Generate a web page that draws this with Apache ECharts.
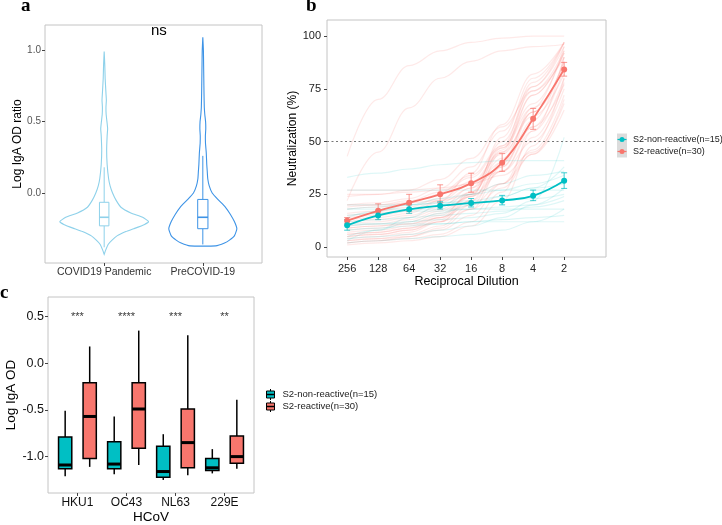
<!DOCTYPE html>
<html>
<head>
<meta charset="utf-8">
<script src="https://cdn.jsdelivr.net/npm/echarts@6/dist/echarts.min.js"></script>
<style>
html, body { margin: 0; padding: 0; background: #fff; }
#chart { width: 722px; height: 525px; }
</style>
</head>
<body>
<div id="chart"></div>
<script>
// ---- panel a : violins ----
const groupsA = ['COVID19 Pandemic', 'PreCOVID-19']
// outline: y level -> half width (category units)
const violinPanY = [-0.43, -0.40, -0.36, -0.33, -0.30, -0.27, -0.25, -0.22, -0.20, -0.17, -0.14, -0.10, -0.05, 0.00, 0.05, 0.10, 0.20, 0.30, 0.40, 0.45, 0.50, 0.55, 0.60, 0.65, 0.70, 0.80, 0.90, 0.99]
const violinPanW = [0.0, 0.015, 0.04, 0.08, 0.13, 0.22, 0.30, 0.41, 0.45, 0.39, 0.27, 0.17, 0.12, 0.085, 0.06, 0.045, 0.03, 0.025, 0.03, 0.035, 0.028, 0.02, 0.018, 0.022, 0.018, 0.01, 0.006, 0.0]
const violinPreY = [-0.37, -0.35, -0.33, -0.30, -0.25, -0.20, -0.15, -0.10, -0.05, 0.00, 0.05, 0.10, 0.15, 0.20, 0.28, 0.35, 0.40, 0.45, 0.50, 0.55, 0.60, 0.70, 0.80, 0.90, 1.00, 1.09]
const violinPreW = [0.13, 0.22, 0.27, 0.32, 0.345, 0.32, 0.28, 0.23, 0.16, 0.095, 0.065, 0.05, 0.045, 0.04, 0.035, 0.027, 0.026, 0.03, 0.028, 0.02, 0.015, 0.012, 0.01, 0.008, 0.006, 0.0]
// lower whisker, q1, median, q3, upper whisker
const boxPan = [-0.38, -0.23, -0.17, -0.065, 0.18]
const boxPre = [-0.36, -0.25, -0.17, -0.045, 0.26]

// ---- panel b : neutralization ----
const dilutions = ['256', '128', '64', '32', '16', '8', '4', '2']
const reactMean = [12.5, 17.2, 21, 25, 30.2, 40, 60.8, 84.2]
const reactLow = [11, 15, 17, 21, 26, 35.9, 55.8, 81]
const reactHigh = [14, 20.5, 25, 29.5, 35, 44.4, 65.7, 87.5]
const nonMean = [10.3, 15, 17.9, 19.6, 20.9, 22.1, 24.3, 31.4]
const nonLow = [8, 13, 16, 18, 19, 20, 22, 27.8]
const nonHigh = [13, 17, 20, 21.5, 23, 24.5, 27, 35.2]
// single samples (faint curves)
const reactCurves = [
    [43, 70, 86, 93, 97, 99, 100, 100],
    [22, 45, 66, 80, 88, 93, 95, 96],
    [5, 6, 8, 12, 22, 45, 72, 92],
    [3, 4, 6, 10, 20, 40, 66, 95],
    [8, 9, 11, 15, 25, 46, 76, 97],
    [10, 11, 13, 17, 24, 36, 55, 80],
    [2, 3, 4, 6, 12, 26, 55, 90],
    [15, 16, 18, 22, 30, 44, 64, 88],
    [25, 25, 26, 27, 30, 36, 50, 75],
    [20, 20, 21, 22, 25, 30, 44, 70],
    [12, 13, 15, 19, 28, 48, 78, 97],
    [6, 7, 9, 14, 26, 50, 74, 93],
    [27, 27, 27, 28, 30, 34, 45, 68],
    [4, 5, 7, 12, 24, 52, 80, 97],
    [18, 19, 21, 25, 33, 47, 66, 85],
    [9, 10, 12, 16, 24, 38, 60, 90],
    [1, 2, 3, 5, 10, 22, 48, 80],
    [14, 15, 17, 21, 28, 40, 57, 77],
    [7, 8, 10, 14, 22, 36, 57, 85],
    [20, 21, 23, 28, 38, 55, 76, 95],
    [11, 12, 14, 18, 26, 42, 64, 88],
    [5, 6, 8, 13, 25, 47, 72, 92],
    [16, 17, 19, 23, 31, 45, 62, 82],
    [3, 4, 5, 8, 15, 30, 52, 78],
    [24, 25, 27, 32, 42, 57, 74, 90],
    [9, 10, 11, 14, 20, 30, 46, 72],
    [13, 14, 16, 22, 35, 58, 82, 97],
    [6, 7, 9, 12, 18, 28, 44, 65],
    [19, 20, 22, 26, 34, 48, 68, 93],
    [2, 3, 5, 9, 18, 38, 64, 86]
]
const nonCurves = [
    [33, 35, 37, 39, 40, 41, 41, 41],
    [18, 19, 20, 21, 22, 24, 28, 38],
    [10, 11, 12, 13, 14, 16, 22, 52],
    [27, 27, 27, 27, 27, 27, 27, 27],
    [5, 8, 12, 16, 20, 24, 28, 30],
    [2, 3, 4, 5, 6, 8, 12, 18],
    [12, 13, 14, 15, 16, 17, 19, 22],
    [20, 20, 20, 21, 21, 22, 23, 25],
    [15, 16, 17, 17, 18, 19, 20, 24],
    [8, 9, 10, 11, 12, 13, 14, 15],
    [3, 8, 14, 20, 25, 30, 34, 36],
    [18, 18, 18, 18, 18, 18, 18, 18],
    [11, 11, 11, 11, 12, 12, 12, 12],
    [4, 5, 6, 8, 10, 14, 20, 28],
    [14, 17, 20, 23, 25, 27, 30, 34]
]

// ---- panel c : IgA per HCoV ----
const hcov = ['HKU1', 'OC43', 'NL63', '229E']
const signif = ['***', '****', '***', '**']
// low, q1, median, q3, high
const nonBox = [
    [-1.21, -1.13, -1.09, -0.79, -0.51],
    [-1.19, -1.13, -1.08, -0.84, -0.57],
    [-1.25, -1.22, -1.16, -0.89, -0.76],
    [-1.18, -1.15, -1.12, -1.02, -0.92]
]
const reactBox = [
    [-1.11, -1.02, -0.57, -0.21, 0.18],
    [-1.09, -0.91, -0.49, -0.21, 0.35],
    [-1.20, -1.12, -0.85, -0.49, 0.30],
    [-1.13, -1.07, -1.00, -0.78, -0.39]
]

const FONT = 'Liberation Sans'
const RED = '#F8766D'
const TEAL = '#00BFC4'
const PAN = '#8ED1EA'
const PRE = '#3D93E6'

const chart = echarts.init(document.getElementById('chart'))

// 小提琴轮廓
function violinItem(ys, ws, color) {
    return function (params, api) {
        const pos = api.value(0)
        const right = ys.map((y, i) => api.coord([pos + ws[i], y]))
        const left = ys.map((y, i) => api.coord([pos - ws[i], y])).reverse()
        return {
            type: 'polygon',
            shape: { points: right.concat(left), smooth: 0.15 },
            style: { fill: 'none', stroke: color, lineWidth: 1.1 }
        }
    }
}

// 箱线图 (panel a 细线, panel c 黑边)
function boxItem(halfW, fill, stroke, lw, medW) {
    return function (params, api) {
        const x = api.value(0)
        const lo = api.coord([x, api.value(1)])
        const q1 = api.coord([x, api.value(2)])
        const md = api.coord([x, api.value(3)])
        const q3 = api.coord([x, api.value(4)])
        const hi = api.coord([x, api.value(5)])
        const hw = api.size([halfW, 0])[0]
        const line = (x1, y1, x2, y2, w) => ({
            type: 'line',
            shape: { x1: x1, y1: y1, x2: x2, y2: y2 },
            style: { stroke: stroke, lineWidth: w }
        })
        return {
            type: 'group',
            children: [
                line(lo[0], lo[1], q1[0], q1[1], lw),
                line(q3[0], q3[1], hi[0], hi[1], lw),
                {
                    type: 'rect',
                    shape: { x: q3[0] - hw, y: q3[1], width: hw * 2, height: q1[1] - q3[1] },
                    style: { fill: fill, stroke: stroke, lineWidth: lw }
                },
                line(md[0] - hw, md[1], md[0] + hw, md[1], medW)
            ]
        }
    }
}

// 误差线
function errItem(color) {
    return function (params, api) {
        const lo = api.coord([api.value(0), api.value(1)])
        const hi = api.coord([api.value(0), api.value(2)])
        const cap = 3
        const st = { stroke: color, lineWidth: 1, opacity: 0.75 }
        return {
            type: 'group',
            children: [
                { type: 'line', shape: { x1: lo[0], y1: lo[1], x2: hi[0], y2: hi[1] }, style: st },
                { type: 'line', shape: { x1: lo[0] - cap, y1: lo[1], x2: lo[0] + cap, y2: lo[1] }, style: st },
                { type: 'line', shape: { x1: hi[0] - cap, y1: hi[1], x2: hi[0] + cap, y2: hi[1] }, style: st }
            ]
        }
    }
}

const series = []

// panel a
series.push({
    type: 'custom', xAxisIndex: 0, yAxisIndex: 0, silent: true,
    data: [[1, 0]], renderItem: violinItem(violinPanY, violinPanW, PAN)
})
series.push({
    type: 'custom', xAxisIndex: 0, yAxisIndex: 0, silent: true,
    data: [[2, 0]], renderItem: violinItem(violinPreY, violinPreW, PRE)
})
series.push({
    type: 'custom', xAxisIndex: 0, yAxisIndex: 0, silent: true,
    data: [[1].concat(boxPan)], renderItem: boxItem(0.048, '#fff', PAN, 1, 1.6)
})
series.push({
    type: 'custom', xAxisIndex: 0, yAxisIndex: 0, silent: true,
    data: [[2].concat(boxPre)], renderItem: boxItem(0.052, '#fff', PRE, 1, 1.6)
})

// panel b 单个样本曲线
reactCurves.forEach(c => {
    series.push({
        type: 'line', xAxisIndex: 1, yAxisIndex: 1, silent: true, symbol: 'none',
        smooth: 0.4, smoothMonotone: 'x',
        data: c.map((v, i) => [i, v]),
        lineStyle: { color: RED, width: 1.2, opacity: 0.16 }
    })
})
nonCurves.forEach(c => {
    series.push({
        type: 'line', xAxisIndex: 1, yAxisIndex: 1, silent: true, symbol: 'none',
        smooth: 0.4, smoothMonotone: 'x',
        data: c.map((v, i) => [i, v]),
        lineStyle: { color: TEAL, width: 1.2, opacity: 0.13 }
    })
})
series.push({
    type: 'custom', xAxisIndex: 1, yAxisIndex: 1, silent: true,
    data: dilutions.map((d, i) => [i, reactLow[i], reactHigh[i]]), renderItem: errItem(RED)
})
series.push({
    type: 'custom', xAxisIndex: 1, yAxisIndex: 1, silent: true,
    data: dilutions.map((d, i) => [i, nonLow[i], nonHigh[i]]), renderItem: errItem(TEAL)
})
series.push({
    type: 'line', xAxisIndex: 1, yAxisIndex: 1, silent: true,
    smooth: 0.45, symbol: 'circle', symbolSize: 6, showAllSymbol: true,
    data: reactMean.map((v, i) => [i, v]),
    itemStyle: { color: RED }, lineStyle: { color: RED, width: 1.8 },
    markLine: {
        silent: true, symbol: 'none', label: { show: false },
        lineStyle: { color: '#777', type: [2, 2.5], width: 1 },
        data: [{ yAxis: 50 }]
    }
})
series.push({
    type: 'line', xAxisIndex: 1, yAxisIndex: 1, silent: true,
    smooth: 0.45, symbol: 'circle', symbolSize: 6, showAllSymbol: true,
    data: nonMean.map((v, i) => [i, v]),
    itemStyle: { color: TEAL }, lineStyle: { color: TEAL, width: 1.8 }
})

// panel c
series.push({
    type: 'custom', xAxisIndex: 2, yAxisIndex: 2, silent: true,
    data: nonBox.map((r, i) => [i + 1 - 0.25].concat(r)),
    renderItem: boxItem(0.135, TEAL, '#000', 1.5, 3)
})
series.push({
    type: 'custom', xAxisIndex: 2, yAxisIndex: 2, silent: true,
    data: reactBox.map((r, i) => [i + 1 + 0.25].concat(r)),
    renderItem: boxItem(0.135, RED, '#000', 1.5, 3)
})
series.push({
    type: 'scatter', xAxisIndex: 2, yAxisIndex: 2, silent: true, symbolSize: 0,
    data: signif.map((s, i) => [i + 1, 0.5, s]),
    label: {
        show: true, position: 'inside', formatter: p => p.data[2],
        color: '#000', fontSize: 11, fontFamily: FONT
    }
})

function xAx(grid, min, max, vals, fmt, name, gap, fs, color, margin) {
    return {
        type: 'value', gridIndex: grid, min: min, max: max,
        name: name, nameLocation: 'middle', nameGap: gap,
        nameTextStyle: { fontFamily: FONT, fontSize: fs + 1.5, color: '#000' },
        axisLine: { show: false, onZero: false }, splitLine: { show: false },
        axisTick: { show: true, customValues: vals, length: 3, lineStyle: { color: '#444' } },
        axisLabel: { customValues: vals, formatter: fmt, fontFamily: FONT, fontSize: fs, color: color, margin: margin }
    }
}
function yAx(grid, min, max, vals, fmt, name, gap, fs, nfs, color, margin) {
    return {
        type: 'value', gridIndex: grid, min: min, max: max,
        name: name, nameLocation: 'middle', nameGap: gap,
        nameTextStyle: { fontFamily: FONT, fontSize: nfs, color: '#000' },
        axisLine: { show: false, onZero: false }, splitLine: { show: false },
        axisTick: { show: true, customValues: vals, length: 3, lineStyle: { color: '#444' } },
        axisLabel: { customValues: vals, formatter: fmt, fontFamily: FONT, fontSize: fs, color: color, margin: margin }
    }
}

const gridStyle = { show: true, borderColor: '#c4c4c4', borderWidth: 1, backgroundColor: 'transparent' }

chart.setOption({
    animation: false,
    grid: [
        Object.assign({ left: 45, top: 25, width: 217, height: 238 }, gridStyle),
        Object.assign({ left: 327, top: 20, width: 279, height: 237 }, gridStyle),
        Object.assign({ left: 48, top: 297, width: 206, height: 200 }, gridStyle)
    ],
    xAxis: [
        xAx(0, 0.4, 2.6, [1, 2], v => groupsA[v - 1], '', 0, 10.5, '#333', 4),
        xAx(1, -0.65, 8.35, [0, 1, 2, 3, 4, 5, 6, 7], v => dilutions[v], 'Reciprocal Dilution', 18, 11, '#222', 6),
        xAx(2, 0.4, 4.6, [1, 2, 3, 4], v => hcov[v - 1], 'HCoV', 17, 12, '#111', 4)
    ],
    yAxis: [
        yAx(0, -0.49, 1.176, [0, 0.5, 1], v => v.toFixed(1), 'Log IgA OD ratio', 19, 10, 12, '#555', 4),
        yAx(1, -4.7, 107.6, [0, 25, 50, 75, 100], v => String(v), 'Neutralization (%)', 26, 11, 12, '#222', 6),
        yAx(2, -1.39, 0.71, [-1, -0.5, 0, 0.5], v => v.toFixed(1), 'Log IgA OD', 25, 12.5, 13.5, '#111', 4)
    ],
    series: series,
    graphic: [
        { type: 'text', left: 21, top: -3, style: { text: 'a', font: 'bold 19px "Liberation Serif"', fill: '#000' } },
        { type: 'text', left: 306, top: -3, style: { text: 'b', font: 'bold 19px "Liberation Serif"', fill: '#000' } },
        { type: 'text', left: 0, top: 284, style: { text: 'c', font: 'bold 19px "Liberation Serif"', fill: '#000' } },
        { type: 'text', left: 151, top: 23, style: { text: 'ns', font: '15px "Liberation Sans"', fill: '#000' } },
        // legend b
        { type: 'rect', shape: { x: 617, y: 133.5, width: 10, height: 24 }, style: { fill: '#dcdcdc' } },
        { type: 'line', shape: { x1: 617.5, y1: 139.5, x2: 626.5, y2: 139.5 }, style: { stroke: TEAL, lineWidth: 1.2 } },
        { type: 'circle', shape: { cx: 622, cy: 139.5, r: 2.5 }, style: { fill: TEAL } },
        { type: 'line', shape: { x1: 617.5, y1: 151.5, x2: 626.5, y2: 151.5 }, style: { stroke: RED, lineWidth: 1.2 } },
        { type: 'circle', shape: { cx: 622, cy: 151.5, r: 2.5 }, style: { fill: RED } },
        { type: 'text', x: 633, y: 139.5, style: { text: 'S2-non-reactive(n=15)', font: '9px "Liberation Sans"', fill: '#222', verticalAlign: 'middle' } },
        { type: 'text', x: 633, y: 151.5, style: { text: 'S2-reactive(n=30)', font: '9px "Liberation Sans"', fill: '#222', verticalAlign: 'middle' } },
        // legend c
        { type: 'line', shape: { x1: 270.5, y1: 389, x2: 270.5, y2: 400 }, style: { stroke: '#000', lineWidth: 1 } },
        { type: 'rect', shape: { x: 266.5, y: 391, width: 8, height: 7 }, style: { fill: TEAL, stroke: '#000', lineWidth: 1 } },
        { type: 'line', shape: { x1: 266.5, y1: 394.5, x2: 274.5, y2: 394.5 }, style: { stroke: '#000', lineWidth: 1.5 } },
        { type: 'line', shape: { x1: 270.5, y1: 401, x2: 270.5, y2: 412 }, style: { stroke: '#000', lineWidth: 1 } },
        { type: 'rect', shape: { x: 266.5, y: 403, width: 8, height: 7 }, style: { fill: RED, stroke: '#000', lineWidth: 1 } },
        { type: 'line', shape: { x1: 266.5, y1: 406.5, x2: 274.5, y2: 406.5 }, style: { stroke: '#000', lineWidth: 1.5 } },
        { type: 'text', x: 282.5, y: 394.5, style: { text: 'S2-non-reactive(n=15)', font: '9.5px "Liberation Sans"', fill: '#222', verticalAlign: 'middle' } },
        { type: 'text', x: 282.5, y: 406.5, style: { text: 'S2-reactive(n=30)', font: '9.5px "Liberation Sans"', fill: '#222', verticalAlign: 'middle' } }
    ]
})
</script>
</body>
</html>
